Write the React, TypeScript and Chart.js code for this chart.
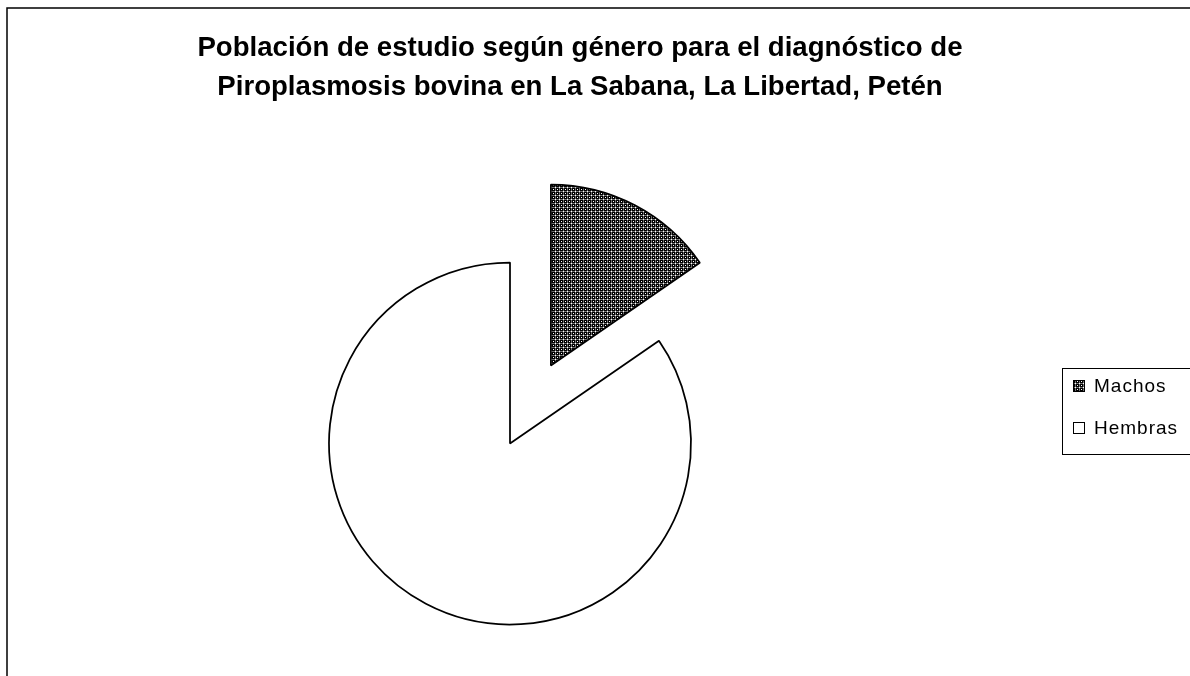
import React, { useEffect, useRef } from "react";
import { Chart, registerables } from "chart.js";

Chart.register(...registerables);

const titleLines = [
  "Población de estudio según género para el diagnóstico de",
  "Piroplasmosis bovina en La Sabana, La Libertad, Petén",
];
const categories = ["Machos", "Hembras"];
const values = [20, 110];
const explodedIndex = 0;

const W = 1190;
const H = 676;

function makePattern(ctx: CanvasRenderingContext2D): CanvasPattern | string {
  const c = document.createElement("canvas");
  c.width = 4;
  c.height = 4;
  const p = c.getContext("2d");
  if (!p) return "#555";
  const B = "#000000";
  const G = "#6e6e6e";
  const Wh = "#ffffff";
  const tile = [
    [B, B, B, G],
    [B, Wh, B, G],
    [B, B, B, G],
    [G, G, G, Wh],
  ];
  for (let y = 0; y < 4; y++) {
    for (let x = 0; x < 4; x++) {
      p.fillStyle = tile[y][x];
      p.fillRect(x, y, 1, 1);
    }
  }
  return ctx.createPattern(c, "repeat") || "#555";
}

export default function App() {
  const ref = useRef<HTMLCanvasElement | null>(null);

  useEffect(() => {
    const canvas = ref.current;
    if (!canvas) return;
    const ctx = canvas.getContext("2d");
    if (!ctx) return;
    const pattern = makePattern(ctx);

    const decor = {
      id: "decor",
      afterDatasetsUpdate(chart: any) {
        const meta = chart.getDatasetMeta(0);
        const arc = meta.data[explodedIndex];
        if (!arc) return;
        const half = (arc.startAngle + arc.endAngle) / 2;
        const dist = 88;
        arc.x += Math.cos(half) * dist;
        arc.y += Math.sin(half) * dist;
      },
      beforeDraw(chart: any) {
        const c = chart.ctx;
        c.save();
        c.fillStyle = "#ffffff";
        c.fillRect(0, 0, W, H);
        c.strokeStyle = "#000";
        c.lineWidth = 1.5;
        c.strokeRect(7, 8, 1400, 900);
        c.restore();
      },
      afterDraw(chart: any) {
        const c = chart.ctx;
        c.save();
        c.fillStyle = "#000";
        c.textAlign = "center";
        c.textBaseline = "alphabetic";
        c.font = "bold 27.6px 'Liberation Sans', Arial, sans-serif";
        c.fillText(titleLines[0], 580, 56);
        c.fillText(titleLines[1], 580, 95);

        // legend box
        c.strokeStyle = "#000";
        c.lineWidth = 1;
        c.fillStyle = "#fff";
        c.fillRect(1062.5, 368.5, 300, 86);
        c.strokeRect(1062.5, 368.5, 300, 86);
        c.font = "19px 'Liberation Sans', Arial, sans-serif";
        c.textAlign = "left";
        try {
          (c as any).letterSpacing = "1px";
        } catch (e) {}
        const rows = [392, 434];
        categories.forEach((cat, i) => {
          const y = rows[i];
          c.fillStyle = i === 0 ? pattern : "#fff";
          c.fillRect(1073, y - 12, 11, 11);
          c.strokeStyle = "#000";
          c.lineWidth = 1;
          c.strokeRect(1073.5, y - 11.5, 11, 11);
          c.fillStyle = "#000";
          c.fillText(cat, 1094, y);
        });
        c.restore();
      },
    };

    const chart = new Chart(canvas, {
      type: "pie",
      data: {
        labels: categories,
        datasets: [
          {
            data: values,
            backgroundColor: [pattern as any, "#ffffff"],
            borderColor: "#000000",
            borderWidth: 1.75,
            radius: 181,
          } as any,
        ],
      },
      options: {
        responsive: false,
        maintainAspectRatio: false,
        animation: false,
        layout: { padding: { left: 0, right: 170, top: 211, bottom: 0 } },
        plugins: {
          legend: { display: false },
          title: { display: false },
          tooltip: { enabled: false },
        },
      },
      plugins: [decor],
    });

    return () => chart.destroy();
  }, []);

  return (
    <div style={{ position: "fixed", left: 0, top: 0, width: W, height: H, overflow: "hidden", background: "#fff" }}>
      <canvas ref={ref} width={W} height={H} style={{ display: "block", width: W, height: H }} />
    </div>
  );
}
